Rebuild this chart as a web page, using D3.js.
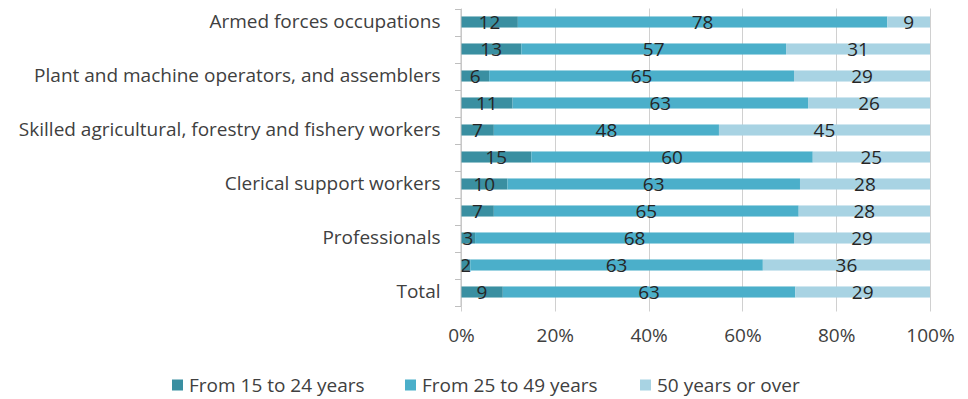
<!DOCTYPE html>
<html>
<head>
<meta charset="utf-8">
<script src="https://cdn.jsdelivr.net/npm/d3@7/dist/d3.min.js"></script>
<style>
  html, body { margin: 0; padding: 0; background: #ffffff; }
  svg { display: block; }
</style>
</head>
<body>
<svg id="chart" width="968" height="399"></svg>
<script>
// ---- data ----
const categories = [
  "Armed forces occupations",
  "Elementary occupations",
  "Plant and machine operators, and assemblers",
  "Craft and related trades workers",
  "Skilled agricultural, forestry and fishery workers",
  "Service and sales workers",
  "Clerical support workers",
  "Technicians and associate professionals",
  "Professionals",
  "Managers",
  "Total"
];
const seriesNames = ["From 15 to 24 years", "From 25 to 49 years", "50 years or over"];
const age15to24 = [12, 13, 6, 11, 7, 15, 10, 7, 3, 2, 9];
const age25to49 = [78, 57, 65, 63, 48, 60, 63, 65, 68, 63, 63];
const age50plus = [9, 31, 29, 26, 45, 25, 28, 28, 29, 36, 29];
const xTicks = [0, 0.2, 0.4, 0.6, 0.8, 1.0];
const colors = ["#3a8fa1", "#4bafca", "#a8d3e3"];

// ---- layout ----
const svg = d3.select("#chart");
const m = { left: 461, right: 38, top: 8.5, bottom: 93.5 };
const W = 968, H = 399;
const x = d3.scaleLinear().domain([0, 1]).range([m.left, W - m.right]);
const y = d3.scaleBand().domain(categories).range([m.top, H - m.bottom])
  .paddingInner(0.59).paddingOuter(0.295);
const color = d3.scaleOrdinal().domain(seriesNames).range(colors);

const rows = categories.map((c, i) => {
  const vals = [age15to24[i], age25to49[i], age50plus[i]];
  const total = d3.sum(vals);
  const o = { category: c };
  seriesNames.forEach((s, j) => { o[s] = vals[j] / total; o[s + "_raw"] = vals[j]; });
  return o;
});
const stacked = d3.stack().keys(seriesNames)(rows);

const font = "'Open Sans', 'Liberation Sans', sans-serif";

// gridlines
const plotBottom = H - m.bottom;
svg.append("g").selectAll("line").data(xTicks).join("line")
  .attr("x1", d => Math.round(x(d)) + 0.5).attr("x2", d => Math.round(x(d)) + 0.5)
  .attr("y1", m.top).attr("y2", plotBottom + 6)
  .attr("stroke", "#d0d0d0").attr("stroke-width", 1);

// bars
const groups = svg.append("g").selectAll("g").data(stacked).join("g")
  .attr("fill", d => color(d.key));
groups.selectAll("rect").data(d => d).join("rect")
  .attr("x", d => x(d[0]))
  .attr("width", d => x(d[1]) - x(d[0]))
  .attr("y", d => y(d.data.category))
  .attr("height", y.bandwidth());

// value labels
const lab = svg.append("g").attr("font-family", font).attr("font-size", 19)
  .attr("fill", "#262626").attr("text-anchor", "middle");
stacked.forEach(s => {
  lab.selectAll(null).data(s).join("text")
    .attr("x", d => x((d[0] + d[1]) / 2))
    .attr("y", d => y(d.data.category) + y.bandwidth() / 2)
    .attr("dy", "0.36em")
    .text(d => d.data[s.key + "_raw"]);
});

// y axis (every other label shown)
const yAxis = d3.axisLeft(y).tickSize(0).tickPadding(20)
  .tickFormat((d, i) => i % 2 === 0 ? d : "");
const gy = svg.append("g").attr("transform", `translate(${m.left - 0.5},0)`).call(yAxis);
gy.select(".domain").attr("stroke", "#bfbfbf");
gy.selectAll("text").attr("font-family", font).attr("font-size", 19).attr("fill", "#404040");
// category boundary tick marks
const bounds = categories.map(c => y(c) - y.step() * y.paddingInner() / 2).concat([plotBottom]);
svg.append("g").selectAll("line").data(bounds).join("line")
  .attr("x1", m.left - 6).attr("x2", m.left)
  .attr("y1", d => Math.round(d) + 0.5).attr("y2", d => Math.round(d) + 0.5)
  .attr("stroke", "#bfbfbf");

// x axis labels
const xAxis = d3.axisBottom(x).tickValues(xTicks).tickSize(0).tickPadding(23)
  .tickFormat(d3.format(".0%"));
const gx = svg.append("g").attr("transform", `translate(0,${plotBottom})`).call(xAxis);
gx.select(".domain").remove();
gx.selectAll("text").attr("font-family", font).attr("font-size", 19).attr("fill", "#404040");

// legend
const legendX = [172, 405, 640];
const lg = svg.append("g").selectAll("g").data(seriesNames).join("g")
  .attr("transform", (d, i) => `translate(${legendX[i]},385)`);
lg.append("rect").attr("x", 0).attr("y", -5.5).attr("width", 11).attr("height", 11)
  .attr("fill", d => color(d));
lg.append("text").attr("x", 17).attr("dy", "0.36em")
  .attr("font-family", font).attr("font-size", 19).attr("fill", "#404040")
  .text(d => d);
</script>
</body>
</html>
